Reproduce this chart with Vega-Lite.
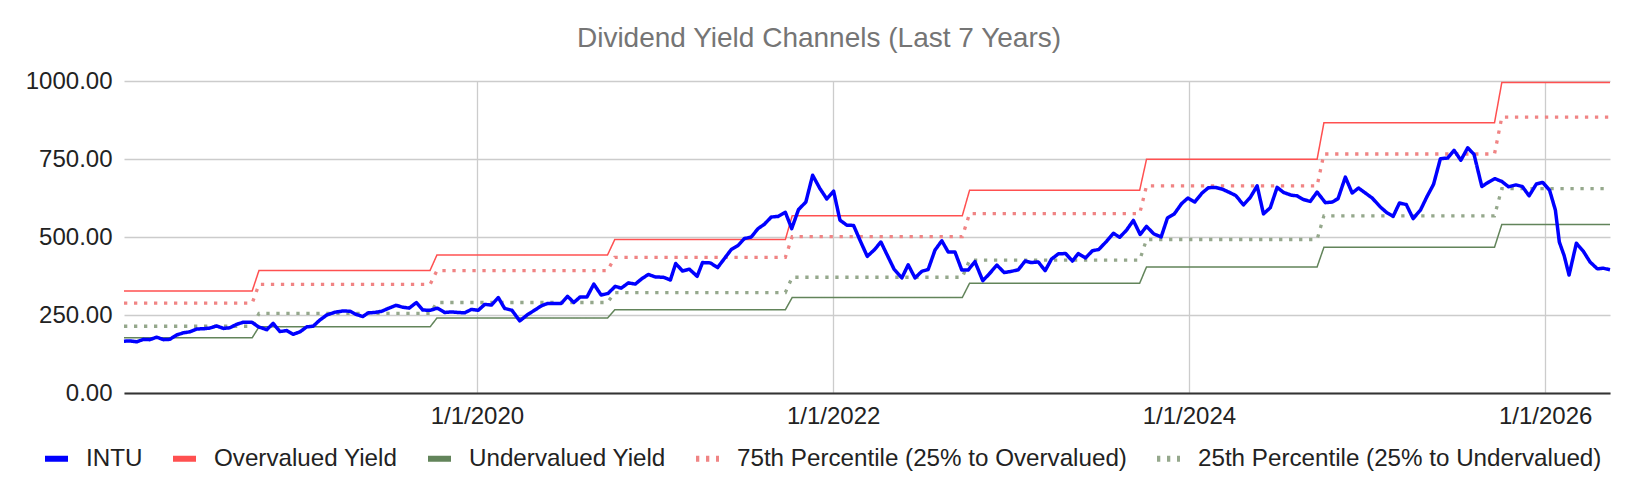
{
  "$schema": "https://vega.github.io/schema/vega-lite/v6.json",
  "width": 1486,
  "height": 312,
  "autosize": {"type": "none"},
  "padding": {"left": 124, "top": 81, "right": 26, "bottom": 101},
  "background": "white",
  "title": {"text": "Dividend Yield Channels (Last 7 Years)", "fontSize": 28, "fontWeight": "normal", "color": "#757575", "font": "Liberation Sans", "offset": 16, "dx": -48, "anchor": "middle"},
  "data": {"values": [
    {"date":"2018-01-07","series":"INTU","value":166},{"date":"2018-01-19","series":"INTU","value":167},{"date":"2018-02-02","series":"INTU","value":164},{"date":"2018-02-16","series":"INTU","value":172},{"date":"2018-03-01","series":"INTU","value":171},{"date":"2018-03-15","series":"INTU","value":179},{"date":"2018-03-29","series":"INTU","value":171},{"date":"2018-04-11","series":"INTU","value":172},{"date":"2018-04-25","series":"INTU","value":186},{"date":"2018-05-09","series":"INTU","value":193},{"date":"2018-05-22","series":"INTU","value":196},{"date":"2018-06-05","series":"INTU","value":205},{"date":"2018-06-19","series":"INTU","value":206},{"date":"2018-07-02","series":"INTU","value":208},{"date":"2018-07-16","series":"INTU","value":215},{"date":"2018-07-30","series":"INTU","value":207},{"date":"2018-08-12","series":"INTU","value":209},{"date":"2018-08-26","series":"INTU","value":220},{"date":"2018-09-09","series":"INTU","value":227},{"date":"2018-09-26","series":"INTU","value":227},{"date":"2018-10-10","series":"INTU","value":212},{"date":"2018-10-27","series":"INTU","value":203},{"date":"2018-11-09","series":"INTU","value":223},{"date":"2018-11-23","series":"INTU","value":197},{"date":"2018-12-07","series":"INTU","value":200},{"date":"2018-12-20","series":"INTU","value":188},
    {"date":"2019-01-03","series":"INTU","value":196},{"date":"2019-01-17","series":"INTU","value":212},{"date":"2019-01-30","series":"INTU","value":214},{"date":"2019-02-13","series":"INTU","value":234},{"date":"2019-02-27","series":"INTU","value":250},{"date":"2019-03-16","series":"INTU","value":259},{"date":"2019-04-02","series":"INTU","value":263},{"date":"2019-04-16","series":"INTU","value":262},{"date":"2019-04-28","series":"INTU","value":252},{"date":"2019-05-12","series":"INTU","value":245},{"date":"2019-05-23","series":"INTU","value":257},{"date":"2019-06-05","series":"INTU","value":258},{"date":"2019-06-20","series":"INTU","value":262},{"date":"2019-07-03","series":"INTU","value":271},{"date":"2019-07-19","series":"INTU","value":281},{"date":"2019-08-02","series":"INTU","value":275},{"date":"2019-08-15","series":"INTU","value":272},{"date":"2019-08-30","series":"INTU","value":290},{"date":"2019-09-12","series":"INTU","value":266},{"date":"2019-09-27","series":"INTU","value":265},{"date":"2019-10-12","series":"INTU","value":272},{"date":"2019-10-27","series":"INTU","value":258},{"date":"2019-11-10","series":"INTU","value":260},{"date":"2019-11-24","series":"INTU","value":258},{"date":"2019-12-07","series":"INTU","value":257},{"date":"2019-12-21","series":"INTU","value":268},
    {"date":"2020-01-04","series":"INTU","value":265},{"date":"2020-01-17","series":"INTU","value":284},{"date":"2020-01-31","series":"INTU","value":282},{"date":"2020-02-14","series":"INTU","value":306},{"date":"2020-02-27","series":"INTU","value":271},{"date":"2020-03-13","series":"INTU","value":265},{"date":"2020-03-29","series":"INTU","value":231},{"date":"2020-04-13","series":"INTU","value":250},{"date":"2020-04-26","series":"INTU","value":263},{"date":"2020-05-12","series":"INTU","value":279},{"date":"2020-05-25","series":"INTU","value":287},{"date":"2020-06-08","series":"INTU","value":287},{"date":"2020-06-22","series":"INTU","value":287},{"date":"2020-07-05","series":"INTU","value":310},{"date":"2020-07-18","series":"INTU","value":290},{"date":"2020-07-31","series":"INTU","value":308},{"date":"2020-08-14","series":"INTU","value":308},{"date":"2020-08-28","series":"INTU","value":349},{"date":"2020-09-12","series":"INTU","value":314},{"date":"2020-09-26","series":"INTU","value":319},{"date":"2020-10-11","series":"INTU","value":342},{"date":"2020-10-23","series":"INTU","value":336},{"date":"2020-11-07","series":"INTU","value":353},{"date":"2020-11-21","series":"INTU","value":349},{"date":"2020-12-05","series":"INTU","value":367},{"date":"2020-12-18","series":"INTU","value":380},
    {"date":"2021-01-01","series":"INTU","value":372},{"date":"2021-01-18","series":"INTU","value":371},{"date":"2021-02-01","series":"INTU","value":362},{"date":"2021-02-12","series":"INTU","value":415},{"date":"2021-02-26","series":"INTU","value":391},{"date":"2021-03-12","series":"INTU","value":397},{"date":"2021-03-28","series":"INTU","value":374},{"date":"2021-04-08","series":"INTU","value":418},{"date":"2021-04-24","series":"INTU","value":417},{"date":"2021-05-09","series":"INTU","value":402},{"date":"2021-05-23","series":"INTU","value":431},{"date":"2021-06-06","series":"INTU","value":460},{"date":"2021-06-20","series":"INTU","value":473},{"date":"2021-07-03","series":"INTU","value":495},{"date":"2021-07-17","series":"INTU","value":500},{"date":"2021-07-31","series":"INTU","value":527},{"date":"2021-08-13","series":"INTU","value":541},{"date":"2021-08-27","series":"INTU","value":564},{"date":"2021-09-10","series":"INTU","value":566},{"date":"2021-09-25","series":"INTU","value":579},{"date":"2021-10-08","series":"INTU","value":527},{"date":"2021-10-22","series":"INTU","value":588},{"date":"2021-11-06","series":"INTU","value":612},{"date":"2021-11-20","series":"INTU","value":698},{"date":"2021-12-05","series":"INTU","value":655},{"date":"2021-12-19","series":"INTU","value":622},
    {"date":"2022-01-02","series":"INTU","value":647},{"date":"2022-01-15","series":"INTU","value":554},{"date":"2022-01-29","series":"INTU","value":538},{"date":"2022-02-12","series":"INTU","value":537},{"date":"2022-02-25","series":"INTU","value":490},{"date":"2022-03-12","series":"INTU","value":438},{"date":"2022-03-26","series":"INTU","value":458},{"date":"2022-04-09","series":"INTU","value":484},{"date":"2022-04-22","series":"INTU","value":442},{"date":"2022-05-06","series":"INTU","value":397},{"date":"2022-05-22","series":"INTU","value":369},{"date":"2022-06-04","series":"INTU","value":411},{"date":"2022-06-18","series":"INTU","value":369},{"date":"2022-07-02","series":"INTU","value":390},{"date":"2022-07-15","series":"INTU","value":396},{"date":"2022-07-29","series":"INTU","value":458},{"date":"2022-08-12","series":"INTU","value":488},{"date":"2022-08-25","series":"INTU","value":452},{"date":"2022-09-08","series":"INTU","value":452},{"date":"2022-09-22","series":"INTU","value":394},{"date":"2022-10-05","series":"INTU","value":394},{"date":"2022-10-19","series":"INTU","value":421},{"date":"2022-11-04","series":"INTU","value":360},{"date":"2022-11-17","series":"INTU","value":381},{"date":"2022-12-03","series":"INTU","value":410},{"date":"2022-12-18","series":"INTU","value":386},
    {"date":"2023-01-02","series":"INTU","value":390},{"date":"2023-01-16","series":"INTU","value":395},{"date":"2023-01-30","series":"INTU","value":423},{"date":"2023-02-12","series":"INTU","value":418},{"date":"2023-02-26","series":"INTU","value":420},{"date":"2023-03-12","series":"INTU","value":392},{"date":"2023-03-25","series":"INTU","value":429},{"date":"2023-04-08","series":"INTU","value":446},{"date":"2023-04-23","series":"INTU","value":447},{"date":"2023-05-07","series":"INTU","value":423},{"date":"2023-05-19","series":"INTU","value":447},{"date":"2023-06-03","series":"INTU","value":433},{"date":"2023-06-17","series":"INTU","value":456},{"date":"2023-06-30","series":"INTU","value":460},{"date":"2023-07-16","series":"INTU","value":486},{"date":"2023-07-30","series":"INTU","value":512},{"date":"2023-08-12","series":"INTU","value":499},{"date":"2023-08-26","series":"INTU","value":522},{"date":"2023-09-09","series":"INTU","value":553},{"date":"2023-09-23","series":"INTU","value":508},{"date":"2023-10-06","series":"INTU","value":534},{"date":"2023-10-21","series":"INTU","value":510},{"date":"2023-11-05","series":"INTU","value":500},{"date":"2023-11-18","series":"INTU","value":561},{"date":"2023-12-02","series":"INTU","value":574},{"date":"2023-12-17","series":"INTU","value":607},{"date":"2023-12-30","series":"INTU","value":625},
    {"date":"2024-01-13","series":"INTU","value":612},{"date":"2024-01-28","series":"INTU","value":641},{"date":"2024-02-10","series":"INTU","value":658},{"date":"2024-02-24","series":"INTU","value":659},{"date":"2024-03-10","series":"INTU","value":653},{"date":"2024-03-24","series":"INTU","value":643},{"date":"2024-04-06","series":"INTU","value":633},{"date":"2024-04-22","series":"INTU","value":603},{"date":"2024-05-06","series":"INTU","value":627},{"date":"2024-05-20","series":"INTU","value":664},{"date":"2024-06-02","series":"INTU","value":574},{"date":"2024-06-16","series":"INTU","value":594},{"date":"2024-06-30","series":"INTU","value":659},{"date":"2024-07-13","series":"INTU","value":643},{"date":"2024-07-29","series":"INTU","value":634},{"date":"2024-08-10","series":"INTU","value":632},{"date":"2024-08-23","series":"INTU","value":620},{"date":"2024-09-06","series":"INTU","value":614},{"date":"2024-09-20","series":"INTU","value":644},{"date":"2024-10-07","series":"INTU","value":610},{"date":"2024-10-21","series":"INTU","value":612},{"date":"2024-11-02","series":"INTU","value":623},{"date":"2024-11-17","series":"INTU","value":692},{"date":"2024-12-01","series":"INTU","value":641},{"date":"2024-12-14","series":"INTU","value":657},{"date":"2024-12-28","series":"INTU","value":641},
    {"date":"2025-01-11","series":"INTU","value":625},{"date":"2025-01-28","series":"INTU","value":596},{"date":"2025-02-10","series":"INTU","value":578},{"date":"2025-02-23","series":"INTU","value":566},{"date":"2025-03-08","series":"INTU","value":609},{"date":"2025-03-22","series":"INTU","value":604},{"date":"2025-04-05","series":"INTU","value":559},{"date":"2025-04-20","series":"INTU","value":586},{"date":"2025-05-03","series":"INTU","value":628},{"date":"2025-05-17","series":"INTU","value":669},{"date":"2025-05-31","series":"INTU","value":751},{"date":"2025-06-15","series":"INTU","value":753},{"date":"2025-06-28","series":"INTU","value":778},{"date":"2025-07-12","series":"INTU","value":746},{"date":"2025-07-26","series":"INTU","value":786},{"date":"2025-08-08","series":"INTU","value":765},{"date":"2025-08-24","series":"INTU","value":662},{"date":"2025-09-07","series":"INTU","value":676},{"date":"2025-09-20","series":"INTU","value":687},{"date":"2025-10-04","series":"INTU","value":678},{"date":"2025-10-18","series":"INTU","value":661},{"date":"2025-11-02","series":"INTU","value":667},{"date":"2025-11-15","series":"INTU","value":662},{"date":"2025-11-29","series":"INTU","value":632},{"date":"2025-12-14","series":"INTU","value":670},{"date":"2025-12-27","series":"INTU","value":675},
    {"date":"2026-01-10","series":"INTU","value":650},{"date":"2026-01-22","series":"INTU","value":586},{"date":"2026-01-30","series":"INTU","value":484},{"date":"2026-02-09","series":"INTU","value":440},{"date":"2026-02-19","series":"INTU","value":378},{"date":"2026-03-06","series":"INTU","value":480},{"date":"2026-03-20","series":"INTU","value":455},{"date":"2026-04-03","series":"INTU","value":420},{"date":"2026-04-18","series":"INTU","value":398},{"date":"2026-04-30","series":"INTU","value":400},{"date":"2026-05-14","series":"INTU","value":395},

    {"date":"2018-01-07","series":"Overvalued Yield","value":327},{"date":"2018-09-27","series":"Overvalued Yield","value":327},{"date":"2018-10-11","series":"Overvalued Yield","value":393},{"date":"2019-09-27","series":"Overvalued Yield","value":393},{"date":"2019-10-11","series":"Overvalued Yield","value":442},{"date":"2020-09-25","series":"Overvalued Yield","value":442},{"date":"2020-10-10","series":"Overvalued Yield","value":492},{"date":"2021-09-25","series":"Overvalued Yield","value":492},{"date":"2021-10-09","series":"Overvalued Yield","value":568},{"date":"2022-09-23","series":"Overvalued Yield","value":568},{"date":"2022-10-08","series":"Overvalued Yield","value":650},{"date":"2023-09-22","series":"Overvalued Yield","value":650},{"date":"2023-10-06","series":"Overvalued Yield","value":749},{"date":"2024-09-20","series":"Overvalued Yield","value":749},{"date":"2024-10-04","series":"Overvalued Yield","value":866},{"date":"2025-09-19","series":"Overvalued Yield","value":866},{"date":"2025-10-04","series":"Overvalued Yield","value":995},{"date":"2026-05-14","series":"Overvalued Yield","value":995},

    {"date":"2018-01-07","series":"Undervalued Yield","value":177},{"date":"2018-09-27","series":"Undervalued Yield","value":177},{"date":"2018-10-11","series":"Undervalued Yield","value":212},{"date":"2019-09-27","series":"Undervalued Yield","value":212},{"date":"2019-10-11","series":"Undervalued Yield","value":240},{"date":"2020-09-25","series":"Undervalued Yield","value":240},{"date":"2020-10-10","series":"Undervalued Yield","value":267},{"date":"2021-09-25","series":"Undervalued Yield","value":267},{"date":"2021-10-09","series":"Undervalued Yield","value":306},{"date":"2022-09-23","series":"Undervalued Yield","value":306},{"date":"2022-10-08","series":"Undervalued Yield","value":352},{"date":"2023-09-22","series":"Undervalued Yield","value":352},{"date":"2023-10-06","series":"Undervalued Yield","value":404},{"date":"2024-09-20","series":"Undervalued Yield","value":404},{"date":"2024-10-04","series":"Undervalued Yield","value":467},{"date":"2025-09-19","series":"Undervalued Yield","value":467},{"date":"2025-10-04","series":"Undervalued Yield","value":540},{"date":"2026-05-14","series":"Undervalued Yield","value":540},

    {"date":"2018-01-07","series":"75th Percentile (25% to Overvalued)","value":288},{"date":"2018-09-27","series":"75th Percentile (25% to Overvalued)","value":288},{"date":"2018-10-11","series":"75th Percentile (25% to Overvalued)","value":348},{"date":"2019-09-27","series":"75th Percentile (25% to Overvalued)","value":348},{"date":"2019-10-11","series":"75th Percentile (25% to Overvalued)","value":392},{"date":"2020-09-25","series":"75th Percentile (25% to Overvalued)","value":392},{"date":"2020-10-10","series":"75th Percentile (25% to Overvalued)","value":435},{"date":"2021-09-25","series":"75th Percentile (25% to Overvalued)","value":435},{"date":"2021-10-09","series":"75th Percentile (25% to Overvalued)","value":501},{"date":"2022-09-23","series":"75th Percentile (25% to Overvalued)","value":501},{"date":"2022-10-08","series":"75th Percentile (25% to Overvalued)","value":575},{"date":"2023-09-22","series":"75th Percentile (25% to Overvalued)","value":575},{"date":"2023-10-06","series":"75th Percentile (25% to Overvalued)","value":664},{"date":"2024-09-20","series":"75th Percentile (25% to Overvalued)","value":664},{"date":"2024-10-04","series":"75th Percentile (25% to Overvalued)","value":766},{"date":"2025-09-19","series":"75th Percentile (25% to Overvalued)","value":766},{"date":"2025-10-04","series":"75th Percentile (25% to Overvalued)","value":884},{"date":"2026-05-14","series":"75th Percentile (25% to Overvalued)","value":884},

    {"date":"2018-01-07","series":"25th Percentile (25% to Undervalued)","value":214},{"date":"2018-09-27","series":"25th Percentile (25% to Undervalued)","value":214},{"date":"2018-10-11","series":"25th Percentile (25% to Undervalued)","value":255},{"date":"2019-09-27","series":"25th Percentile (25% to Undervalued)","value":255},{"date":"2019-10-11","series":"25th Percentile (25% to Undervalued)","value":290},{"date":"2020-09-25","series":"25th Percentile (25% to Undervalued)","value":290},{"date":"2020-10-10","series":"25th Percentile (25% to Undervalued)","value":322},{"date":"2021-09-25","series":"25th Percentile (25% to Undervalued)","value":322},{"date":"2021-10-09","series":"25th Percentile (25% to Undervalued)","value":371},{"date":"2022-09-23","series":"25th Percentile (25% to Undervalued)","value":371},{"date":"2022-10-08","series":"25th Percentile (25% to Undervalued)","value":426},{"date":"2023-09-22","series":"25th Percentile (25% to Undervalued)","value":426},{"date":"2023-10-06","series":"25th Percentile (25% to Undervalued)","value":492},{"date":"2024-09-20","series":"25th Percentile (25% to Undervalued)","value":492},{"date":"2024-10-04","series":"25th Percentile (25% to Undervalued)","value":568},{"date":"2025-09-19","series":"25th Percentile (25% to Undervalued)","value":568},{"date":"2025-10-04","series":"25th Percentile (25% to Undervalued)","value":655},{"date":"2026-05-14","series":"25th Percentile (25% to Undervalued)","value":655}
  ]},
  "encoding": {
    "x": {"field": "date", "type": "temporal", "scale": {"nice": false},
      "axis": {"title": null, "values": [{"year": 2020, "month": 1, "date": 1}, {"year": 2022, "month": 1, "date": 1}, {"year": 2024, "month": 1, "date": 1}, {"year": 2026, "month": 1, "date": 1}],
        "format": "%-m/%-d/%Y", "grid": true, "gridColor": "#cccccc", "gridWidth": 1.3, "ticks": false, "domainColor": "#333333", "domainWidth": 2, "labelPadding": 11, "labelFontSize": 24, "labelColor": "#222222", "labelFont": "Liberation Sans"}},
    "y": {"field": "value", "type": "quantitative", "scale": {"domain": [0, 1000], "nice": false},
      "axis": {"title": null, "values": [0, 250, 500, 750, 1000], "format": ".2f", "grid": true, "gridColor": "#cccccc", "gridWidth": 1.3, "domain": false, "ticks": false, "labelPadding": 12, "labelFontSize": 24, "labelColor": "#222222", "labelFont": "Liberation Sans"}},
    "color": {"field": "series", "type": "nominal",
      "scale": {"domain": ["INTU", "Overvalued Yield", "Undervalued Yield", "75th Percentile (25% to Overvalued)", "25th Percentile (25% to Undervalued)"],
        "range": ["#0000ff", "#ff5050", "#62845a", "#f08484", "#95a88c"]},
      "legend": {"orient": "none", "legendX": -82, "legendY": 363, "direction": "horizontal", "title": null, "symbolType": "stroke", "symbolSize": 529, "symbolStrokeWidth": 6, "labelFontSize": 24.2, "labelColor": "#222222", "labelFont": "Liberation Sans", "labelOffset": 15, "columnPadding": 18, "labelLimit": 0}},
    "strokeDash": {"field": "series", "type": "nominal",
      "scale": {"domain": ["INTU", "Overvalued Yield", "Undervalued Yield", "75th Percentile (25% to Overvalued)", "25th Percentile (25% to Undervalued)"],
        "range": [[1, 0], [1, 0], [1, 0], [3.3, 6.7], [3.3, 6.7]]},
      "legend": {"orient": "none", "legendX": -82, "legendY": 363, "direction": "horizontal", "title": null, "symbolType": "stroke", "symbolSize": 529, "symbolStrokeWidth": 6, "labelFontSize": 24.2, "labelColor": "#222222", "labelFont": "Liberation Sans", "labelOffset": 15, "columnPadding": 18, "labelLimit": 0}}
  },
  "layer": [
    {"transform": [{"filter": "datum.series === 'Overvalued Yield' || datum.series === 'Undervalued Yield'"}],
     "mark": {"type": "line", "strokeWidth": 1.5}},
    {"transform": [{"filter": "datum.series === '75th Percentile (25% to Overvalued)' || datum.series === '25th Percentile (25% to Undervalued)'"}],
     "mark": {"type": "line", "strokeWidth": 3.3, "strokeCap": "butt"}},
    {"transform": [{"filter": "datum.series === 'INTU'"}],
     "mark": {"type": "line", "strokeWidth": 3.5, "strokeJoin": "round"}}
  ],
  "config": {
    "view": {"stroke": null},
    "font": "Liberation Sans"
  }
}
